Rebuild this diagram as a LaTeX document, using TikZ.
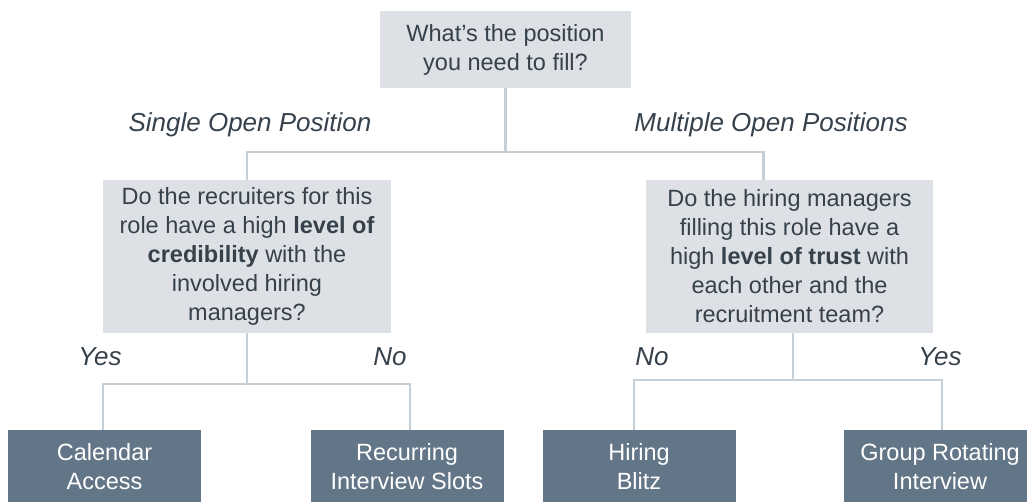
\documentclass[tikz,border=0pt]{standalone}
\usepackage{fontspec}
\setmainfont{Liberation Sans}
\definecolor{ink}{HTML}{36414C}
\definecolor{paleq}{HTML}{DDE1E5}
\definecolor{slate}{HTML}{627687}
\definecolor{wirec}{HTML}{C6CED6}
\tikzset{
  question/.style={fill=paleq, text=ink, inner sep=0pt, align=center,
    font=\fontsize{23.5}{29}\selectfont},
  answer/.style={fill=slate, text=white, inner sep=0pt, align=center,
    minimum width=193pt, minimum height=74pt, font=\fontsize{23.5}{29}\selectfont},
  choice/.style={text=ink, inner sep=0pt, font=\fontsize{26}{30}\selectfont\itshape},
  wire/.style={draw=wirec, line width=2.5pt}
}
\begin{document}
\begin{tikzpicture}[x=1pt,y=-1pt]
\useasboundingbox (0,0) rectangle (1027,502);
\clip (0,0) rectangle (1027,502);
% questions
\node[question, minimum width=251pt, minimum height=77pt] (start) at (505.5,49.5)
  {What's the position\\you need to fill?};
\node[question, minimum width=288pt, minimum height=153pt] (q1) at (247,256.5)
  {Do the recruiters for this\\role have a high \textbf{level of}\\\textbf{credibility} with the\\involved hiring\\managers?};
\node[question, minimum width=287pt, minimum height=153pt] (q2) at (789.5,256.5)
  {Do the hiring managers\\filling this role have a\\high \textbf{level of trust} with\\each other and the\\recruitment team?};
% outcomes
\node[answer] (a1) at (104.5,467) {Calendar\\Access};
\node[answer] (a2) at (407,467) {Recurring\\Interview Slots};
\node[answer] (a3) at (639,467) {Hiring\\Blitz};
\node[answer] (a4) at (940,467) {Group Rotating\\Interview};
% branch labels
\node[choice] (single) at (250,125) {Single Open Position};
\node[choice] (multi) at (771,125) {Multiple Open Positions};
\node[choice] (yes1) at (100,357) {Yes};
\node[choice] (no1) at (390,357) {No};
\node[choice] (no2) at (652,357) {No};
\node[choice] (yes2) at (940,357) {Yes};
% wires
\coordinate (j0) at (505.5,152);
\coordinate (j1) at (247,384);
\coordinate (j2) at (793,380);
\draw[wire] (start.south) -- (j0);
\draw[wire] (q1.north) |- (j0) -| ([xshift=-26pt]q2.north);
\draw[wire] (q1.south) -- (j1);
\draw[wire] ([xshift=-1.5pt]a1.north) |- (j1) -| ([xshift=3pt]a2.north);
\draw[wire] (j2 |- q2.south) -- (j2);
\draw[wire] ([xshift=-5pt]a3.north) |- (j2) -| ([xshift=2pt]a4.north);
\end{tikzpicture}
\end{document}
